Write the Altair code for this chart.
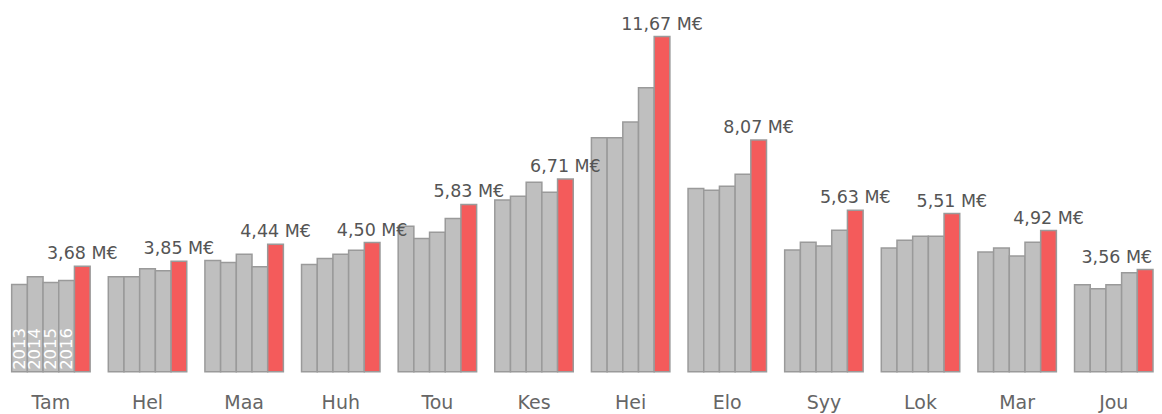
import altair as alt
import pandas as pd

months = ["Tam", "Hel", "Maa", "Huh", "Tou", "Kes", "Hei", "Elo", "Syy", "Lok", "Mar", "Jou"]
years = ["2013", "2014", "2015", "2016", "2017"]
v2013 = [3.04, 3.31, 3.88, 3.74, 5.07, 5.98, 8.15, 6.38, 4.24, 4.31, 4.17, 3.03]
v2014 = [3.31, 3.31, 3.81, 3.95, 4.64, 6.11, 8.15, 6.32, 4.51, 4.58, 4.31, 2.89]
v2015 = [3.11, 3.59, 4.09, 4.09, 4.86, 6.60, 8.70, 6.46, 4.38, 4.72, 4.03, 3.03]
v2016 = [3.18, 3.52, 3.66, 4.23, 5.34, 6.25, 9.89, 6.88, 4.93, 4.72, 4.51, 3.45]
v2017 = [3.68, 3.85, 4.44, 4.50, 5.83, 6.71, 11.67, 8.07, 5.63, 5.51, 4.92, 3.56]
series = [v2013, v2014, v2015, v2016, v2017]

rows = []
for y, vals in zip(years, series):
    for m, v in zip(months, vals):
        rows.append({"month": m, "year": y, "value": v,
                     "label": f"{v:.2f}".replace(".", ",") + " M€"})
df = pd.DataFrame(rows)

year_labels = pd.DataFrame({"month": [months[0]] * 4, "year": years[:4], "zero": [0] * 4})

x = alt.X("month:N", sort=months, title=None,
          scale=alt.Scale(paddingInner=0.188, paddingOuter=0.019, align=1),
          axis=alt.Axis(labelAngle=0, domain=False, ticks=False, grid=False,
                        labelFontSize=19, labelColor="#666666", labelFont="DejaVu Sans",
                        labelPadding=22))
xo = alt.XOffset("year:N", sort=years)
yscale = alt.Scale(domain=[0, 12.66], nice=False, zero=True)

bars = alt.Chart(df).mark_bar(stroke="#9a9a9a", strokeWidth=1.5).encode(
    x=x, xOffset=xo,
    y=alt.Y("value:Q", scale=yscale, axis=None),
    color=alt.Color("year:N", scale=alt.Scale(domain=years,
                    range=["#bfbfbf", "#bfbfbf", "#bfbfbf", "#bfbfbf", "#f45b5b"]), legend=None),
)

last = alt.datum.year == "2017"
vals = alt.Chart(df).transform_filter(last & (alt.datum.month != "Jou")).mark_text(
    baseline="alphabetic", align="center", dy=-7, fontSize=17.5, color="#555555", font="DejaVu Sans"
).encode(x=x, xOffset=xo, y=alt.Y("value:Q", scale=yscale, axis=None), text="label:N")

vals_end = alt.Chart(df).transform_filter(last & (alt.datum.month == "Jou")).mark_text(
    baseline="alphabetic", align="right", dx=7, dy=-7, fontSize=17.5, color="#555555", font="DejaVu Sans"
).encode(x=x, xOffset=xo, y=alt.Y("value:Q", scale=yscale, axis=None), text="label:N")

ylab = alt.Chart(year_labels).mark_text(
    angle=270, align="left", baseline="middle", dx=2, fontSize=16.5, color="white", font="DejaVu Sans"
).encode(x=x, xOffset=xo, y=alt.Y("zero:Q", scale=yscale, axis=None), text="year:N")

chart = alt.layer(bars, vals, vals_end, ylab).properties(
    width=1146, height=364, padding=0
).configure_view(stroke=None)

chart.save("out.html", embed_options={"renderer": "svg", "actions": False})
